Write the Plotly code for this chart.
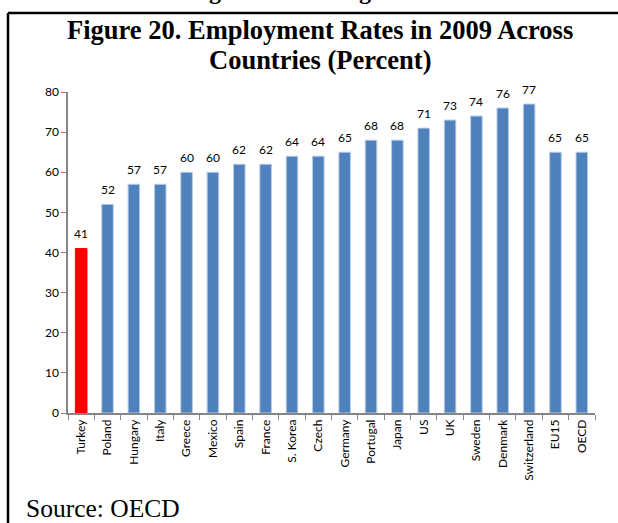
import plotly.graph_objects as go

# Employment rates in 2009 (percent), OECD
countries = ["Turkey", "Poland", "Hungary", "Italy", "Greece", "Mexico", "Spain",
             "France", "S. Korea", "Czech", "Germany", "Portugal", "Japan", "US",
             "UK", "Sweden", "Denmark", "Switzerland", "EU15", "OECD"]
rates = [41, 52, 57, 57, 60, 60, 62, 62, 64, 64, 65, 68, 68, 71, 73, 74, 76, 77, 65, 65]
y_ticks = [0, 10, 20, 30, 40, 50, 60, 70, 80]

W, H = 618, 523
L, R, T, B = 68, 23, 92, 110
plot_w = W - L - R
plot_h = H - T - B


def px_x(p):
    return (p - L) / plot_w


def px_y(p):
    return (H - B - p) / plot_h


bar_colors = ["#FF0000" if c == "Turkey" else "#4F81BD" for c in countries]
edge_colors = ["#FF0000" if c == "Turkey" else "#B9CDE5" for c in countries]

sans = "Lato, Open Sans, sans-serif"
axis_font = dict(family=sans, size=12, color="#000000")

fig = go.Figure(go.Bar(
    x=countries,
    y=rates,
    width=0.44,
    marker=dict(color=bar_colors, line=dict(color=edge_colors, width=1)),
    hoverinfo="x+y",
))

# Value labels above each bar
for c, v in zip(countries, rates):
    fig.add_annotation(
        x=c, y=v, xref="x", yref="y", yanchor="bottom", yshift=5,
        text=str(v), showarrow=False,
        font=dict(family=sans, size=12, color="#000000"),
    )

fig.update_layout(
    width=W, height=H,
    margin=dict(l=L, r=R, t=T, b=B),
    paper_bgcolor="white", plot_bgcolor="white",
    showlegend=False,
    xaxis=dict(
        type="category", tickangle=-90, tickfont=axis_font,
        showline=True, linecolor="#868686", linewidth=1.5,
        ticks="outside", ticklen=5, tickcolor="#868686", tickson="boundaries",
        showgrid=False, zeroline=False, fixedrange=True,
    ),
    yaxis=dict(
        range=[0, 80], tickvals=y_ticks, tickfont=axis_font,
        showline=True, linecolor="#868686", linewidth=1.5,
        ticks="outside", ticklen=5, tickcolor="#868686",
        showgrid=False, zeroline=False, fixedrange=True,
    ),
    font=dict(family="Liberation Serif"),
)

# Frame around the figure (left and top edges)
fig.add_shape(type="line", xref="paper", yref="paper",
              x0=px_x(8), x1=px_x(W + 20), y0=px_y(13), y1=px_y(13),
              line=dict(color="black", width=2.5))
fig.add_shape(type="line", xref="paper", yref="paper",
              x0=px_x(8), x1=px_x(8), y0=px_y(13), y1=px_y(H + 20),
              line=dict(color="black", width=2.5))

# Title, two lines
title_font = dict(family="Liberation Serif", size=26.5, color="black")
fig.add_annotation(
    xref="paper", yref="paper", x=px_x(320), y=px_y(30),
    xanchor="center", yanchor="middle", showarrow=False,
    text="<b>Figure 20. Employment Rates in 2009 Across</b>", font=title_font,
)
fig.add_annotation(
    xref="paper", yref="paper", x=px_x(320), y=px_y(60),
    xanchor="center", yanchor="middle", showarrow=False,
    text="<b>Countries (Percent)</b>", font=title_font,
)

# Source note
fig.add_annotation(
    xref="paper", yref="paper", x=px_x(24), y=px_y(508),
    xanchor="left", yanchor="middle", showarrow=False,
    text="Source: OECD",
    font=dict(family="Liberation Serif", size=25.5, color="black"),
)

# Descenders of the preceding line of text, cut off by the page edge
for xp in (215, 365):
    fig.add_annotation(
        xref="paper", yref="paper", x=px_x(xp), y=px_y(6),
        xanchor="center", yanchor="bottom", showarrow=False,
        text="<b>g</b>",
        font=dict(family="Liberation Serif", size=24, color="black"),
    )

fig.write_html("out.html")
